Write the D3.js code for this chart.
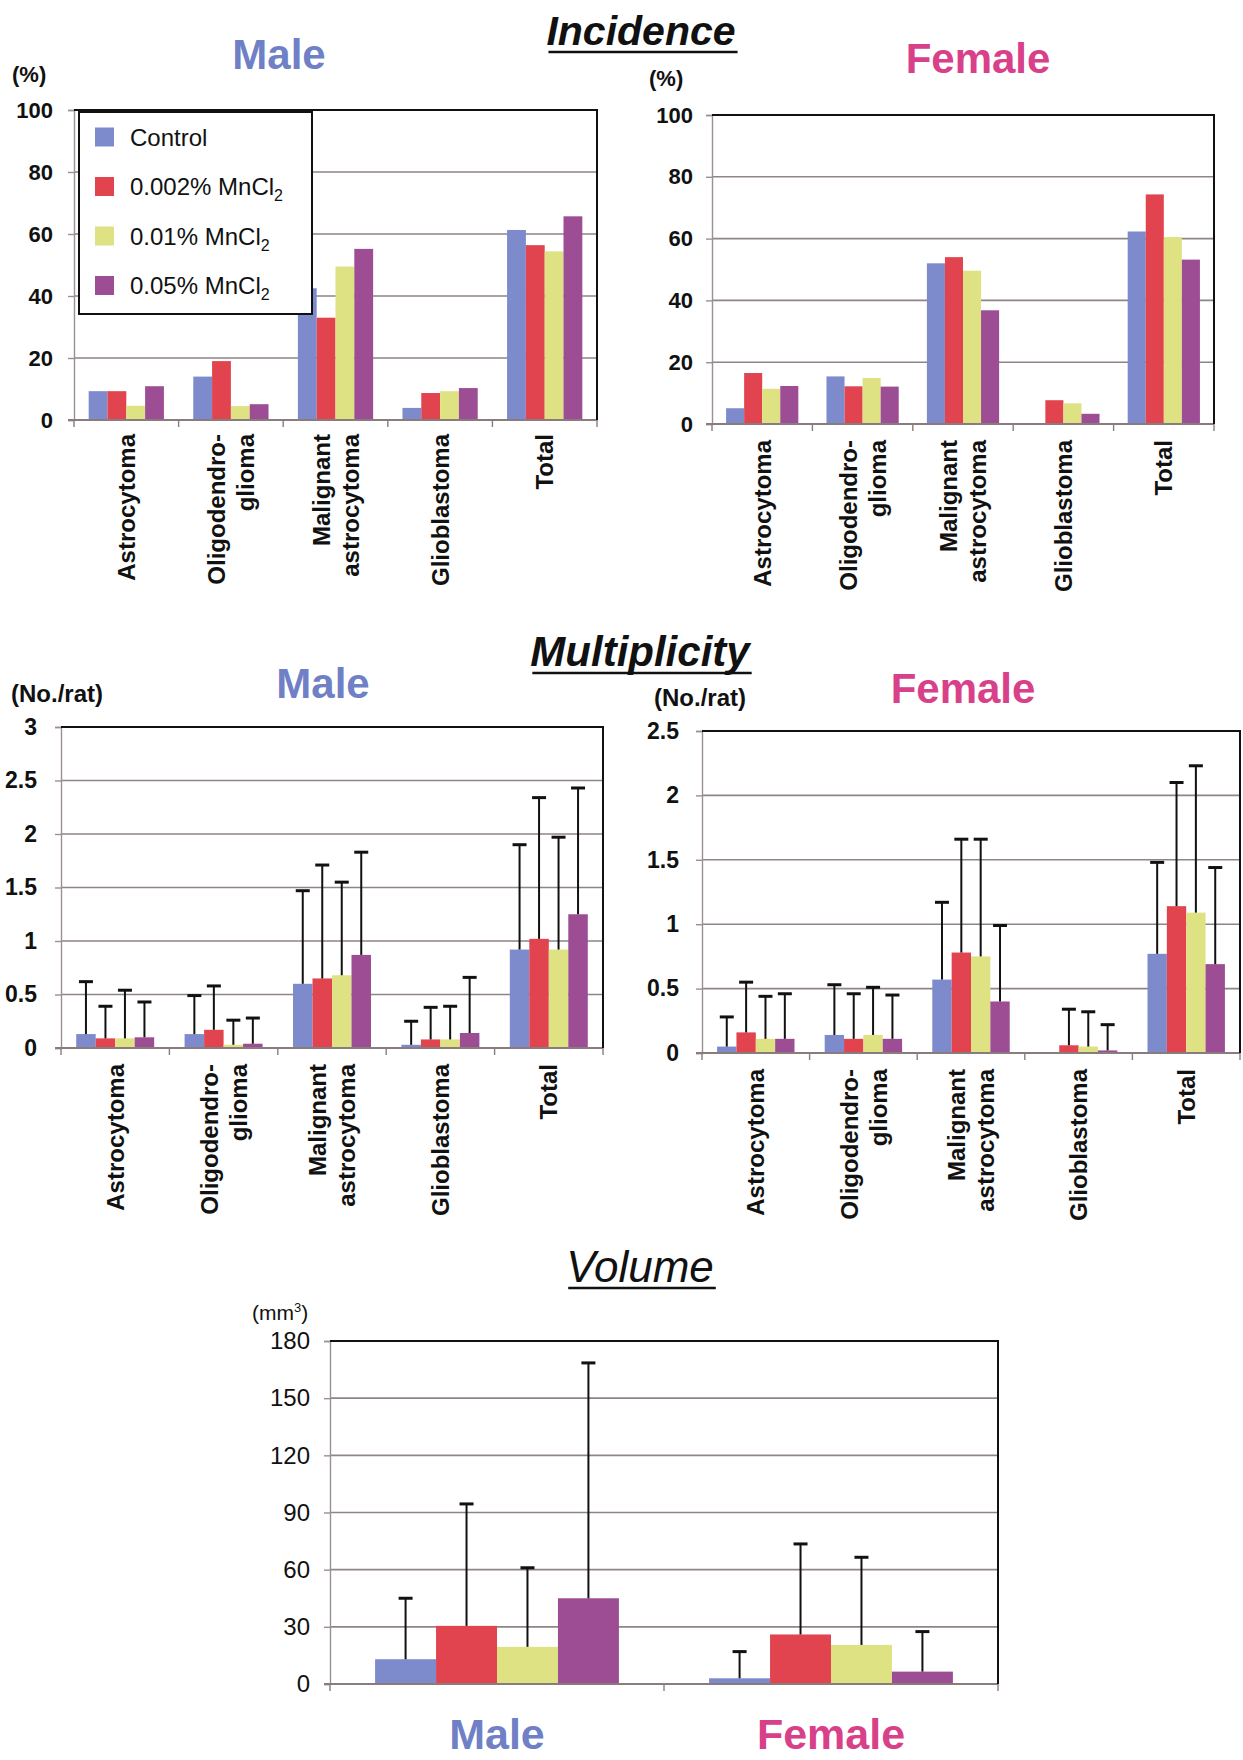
<!DOCTYPE html>
<html><head><meta charset="utf-8">
<script src="https://cdn.jsdelivr.net/npm/d3@7"></script>
<style>body{margin:0;background:#fff}svg{display:block}</style>
</head><body>
<svg id="c" width="1243" height="1760"></svg>
<script>
// ---------- data ----------
const groups = ["Control", "0.002% MnCl", "0.01% MnCl", "0.05% MnCl"];
const groupSubscripts = ["", "2", "2", "2"];
const groupColors = ["#7d8acb", "#e1434f", "#dfe283", "#9c4d93"];
const tumorTypes = ["Astrocytoma", "Oligodendro-glioma", "Malignant astrocytoma", "Glioblastoma", "Total"];
const tumorLabelLines = [["Astrocytoma"], ["Oligodendro-", "glioma"], ["Malignant", "astrocytoma"], ["Glioblastoma"], ["Total"]];

const incidenceTicks = [0, 20, 40, 60, 80, 100];
// rows = groups, columns = tumor types (%)
const incidenceMale = [
  [9.3, 14.0, 42.5, 3.9, 61.3],
  [9.3, 19.0, 33.0, 8.7, 56.4],
  [4.6, 4.5, 49.5, 9.3, 54.4],
  [10.9, 5.1, 55.2, 10.3, 65.7]
];
const incidenceFemale = [
  [5.1, 15.4, 52.0, 0, 62.3],
  [16.5, 12.2, 54.0, 7.7, 74.3],
  [11.4, 14.9, 49.6, 6.7, 60.5],
  [12.3, 12.1, 36.8, 3.3, 53.2]
];

const multiplicityMaleTicks = [0, 0.5, 1, 1.5, 2, 2.5, 3];
const multiplicityFemaleTicks = [0, 0.5, 1, 1.5, 2, 2.5];
const multiplicityMale = [
  [0.13, 0.13, 0.60, 0.03, 0.92],
  [0.09, 0.17, 0.65, 0.08, 1.02],
  [0.09, 0.03, 0.68, 0.08, 0.92],
  [0.10, 0.04, 0.87, 0.14, 1.25]
];
const multiplicityMaleSD = [
  [0.49, 0.36, 0.87, 0.22, 0.98],
  [0.30, 0.41, 1.06, 0.30, 1.32],
  [0.45, 0.23, 0.87, 0.31, 1.05],
  [0.33, 0.24, 0.96, 0.52, 1.18]
];
const multiplicityFemale = [
  [0.05, 0.14, 0.57, 0, 0.77],
  [0.16, 0.11, 0.78, 0.06, 1.14],
  [0.11, 0.14, 0.75, 0.05, 1.09],
  [0.11, 0.11, 0.40, 0.02, 0.69]
];
const multiplicityFemaleSD = [
  [0.23, 0.39, 0.60, 0, 0.71],
  [0.39, 0.35, 0.88, 0.28, 0.96],
  [0.33, 0.37, 0.91, 0.27, 1.14],
  [0.35, 0.34, 0.59, 0.20, 0.75]
];

const sexes = ["Male", "Female"];
const sexColors = ["#6f80c6", "#d8418a"];
const volumeTicks = [0, 30, 60, 90, 120, 150, 180];
// rows = groups, columns = sexes (mm3)
const volumeMean = [
  [13, 3],
  [30.5, 26],
  [19.5, 20.5],
  [45, 6.5]
];
const volumeSD = [
  [32, 14],
  [64, 47.5],
  [41.5, 46],
  [123.5, 21]
];

// ---------- drawing ----------
const FONT = "'Liberation Sans', Arial, Helvetica, sans-serif";
const svg = d3.select("#c");

function drawChart(cfg) {
  const g = svg.append("g");
  const n = cfg.cats.length;
  const x = d3.scaleBand().domain(d3.range(n)).range([cfg.x0, cfg.x1]).paddingInner(0).paddingOuter(0);
  const xg = d3.scaleBand().domain(d3.range(groups.length)).range([0, x.bandwidth()])
    .paddingInner(0).paddingOuter(cfg.groupPad);
  const y = d3.scaleLinear().domain([0, cfg.ticks[cfg.ticks.length - 1]]).range([cfg.y1, cfg.y0]);

  // gridlines
  g.append("g").selectAll("line").data(cfg.ticks.slice(1, -1)).join("line")
    .attr("x1", cfg.x0).attr("x2", cfg.x1)
    .attr("y1", d => y(d)).attr("y2", d => y(d))
    .attr("stroke", "#8f8585").attr("stroke-width", 1.6);

  // bars
  const rows = cfg.means.map((row, gi) => row.map((v, ci) => ({ gi, ci, v, sd: cfg.sds ? cfg.sds[gi][ci] : 0 })));
  const flat = rows.flat();
  g.append("g").selectAll("rect").data(flat).join("rect")
    .attr("x", d => x(d.ci) + xg(d.gi))
    .attr("width", xg.bandwidth())
    .attr("y", d => y(d.v))
    .attr("height", d => y(0) - y(d.v))
    .attr("fill", d => groupColors[d.gi]);

  // error bars
  if (cfg.sds) {
    const eb = g.append("g").attr("stroke", "#111").attr("stroke-width", 2);
    const withErr = flat.filter(d => d.sd > 0);
    eb.selectAll("line.v").data(withErr).join("line").attr("class", "v")
      .attr("x1", d => x(d.ci) + xg(d.gi) + xg.bandwidth() / 2)
      .attr("x2", d => x(d.ci) + xg(d.gi) + xg.bandwidth() / 2)
      .attr("y1", d => y(d.v)).attr("y2", d => y(d.v + d.sd));
    eb.selectAll("line.c").data(withErr).join("line").attr("class", "c")
      .attr("x1", d => x(d.ci) + xg(d.gi) + xg.bandwidth() / 2 - cfg.cap / 2)
      .attr("x2", d => x(d.ci) + xg(d.gi) + xg.bandwidth() / 2 + cfg.cap / 2)
      .attr("y1", d => y(d.v + d.sd)).attr("y2", d => y(d.v + d.sd))
      .attr("stroke-width", 3);
  }

  // left axis
  const ya = g.append("g").attr("transform", `translate(${cfg.x0},0)`)
    .call(d3.axisLeft(y).tickValues(cfg.ticks).tickSize(6).tickPadding(cfg.tickGap - 6).tickFormat(d3.format("~g")));
  ya.select(".domain").attr("stroke", "#9a9090").attr("stroke-width", 1.4);
  ya.selectAll(".tick line").attr("stroke", "#9a9090").attr("stroke-width", 1.4);
  ya.selectAll(".tick text").attr("font-family", FONT).attr("font-size", cfg.tickSize)
    .attr("font-weight", cfg.tickWeight).attr("fill", "#111");

  // bottom axis with boundary ticks
  const ba = g.append("g").attr("stroke", "#8a7c7c").attr("stroke-width", 2);
  ba.append("line").attr("x1", cfg.x0 - 6).attr("x2", cfg.x1).attr("y1", y(0)).attr("y2", y(0));
  ba.selectAll("line.t").data(d3.range(n + 1)).join("line").attr("class", "t")
    .attr("x1", i => i < n ? x(i) : cfg.x1).attr("x2", i => i < n ? x(i) : cfg.x1)
    .attr("y1", y(0)).attr("y2", y(0) + 7).attr("stroke-width", 1.4);

  // top & right border
  g.append("path")
    .attr("d", `M${cfg.x0},${cfg.y0}H${cfg.x1}V${cfg.y1}`)
    .attr("fill", "none").attr("stroke", "#111").attr("stroke-width", 2);

  // category labels
  if (cfg.rotatedLabels) {
    cfg.cats.forEach((lines, i) => {
      const cx = x(i) + x.bandwidth() / 2;
      lines.forEach((t, j) => {
        const lx = cx + (j - (lines.length - 1) / 2) * 29;
        g.append("text")
          .attr("transform", `translate(${lx},${y(0) + cfg.labelGap}) rotate(-90)`)
          .attr("text-anchor", "end").attr("dy", "0.36em")
          .attr("font-family", FONT).attr("font-size", 24).attr("font-weight", "bold")
          .attr("fill", "#111").text(t);
      });
    });
  } else {
    cfg.cats.forEach((t, i) => {
      g.append("text").attr("x", x(i) + x.bandwidth() / 2).attr("y", cfg.labelY)
        .attr("text-anchor", "middle").attr("font-family", FONT)
        .attr("font-size", 43).attr("font-weight", "bold")
        .attr("fill", cfg.catColors[i]).text(t);
    });
  }
  return { x, y };
}

function title(text, cx, baseline, size, weight, underlineY) {
  const t = svg.append("text").attr("x", cx).attr("y", baseline).attr("text-anchor", "middle")
    .attr("font-family", FONT).attr("font-size", size).attr("font-weight", weight)
    .attr("font-style", "italic").attr("fill", "#111").text(text);
  const w = t.node().getComputedTextLength();
  svg.append("line").attr("x1", cx - w / 2 + 2).attr("x2", cx + w / 2 + 2)
    .attr("y1", underlineY).attr("y2", underlineY).attr("stroke", "#111").attr("stroke-width", 2.5);
}
function sexTitle(text, color, cx, baseline) {
  svg.append("text").attr("x", cx).attr("y", baseline).attr("text-anchor", "middle")
    .attr("font-family", FONT).attr("font-size", 42).attr("font-weight", "bold")
    .attr("fill", color).text(text);
}
function unitLabel(text, x, y, size, weight) {
  return svg.append("text").attr("x", x).attr("y", y).attr("font-family", FONT)
    .attr("font-size", size).attr("font-weight", weight).attr("fill", "#111").text(text);
}

// ---- Incidence ----
title("Incidence", 641, 45, 41, "bold", 52);
sexTitle(sexes[0], sexColors[0], 279, 69);
sexTitle(sexes[1], sexColors[1], 978, 73);
unitLabel("(%)", 12, 82, 22, "bold");
unitLabel("(%)", 649, 86, 22, "bold");

drawChart({ x0: 74, x1: 597, y0: 110, y1: 420, ticks: incidenceTicks, means: incidenceMale,
  cats: tumorLabelLines, groupPad: 0.78, tickGap: 21, tickSize: 22, tickWeight: "bold",
  rotatedLabels: true, labelGap: 14, cap: 14 });
drawChart({ x0: 712, x1: 1214, y0: 115, y1: 424, ticks: incidenceTicks, means: incidenceFemale,
  cats: tumorLabelLines, groupPad: 0.78, tickGap: 19, tickSize: 22, tickWeight: "bold",
  rotatedLabels: true, labelGap: 16, cap: 14 });

// legend
const lg = svg.append("g");
lg.append("rect").attr("x", 79).attr("y", 112).attr("width", 233).attr("height", 202)
  .attr("fill", "#fff").attr("stroke", "#111").attr("stroke-width", 2);
groups.forEach((name, i) => {
  const cy = 137 + i * 49.5;
  lg.append("rect").attr("x", 95).attr("y", cy - 9.5).attr("width", 19).attr("height", 19)
    .attr("fill", groupColors[i]);
  const t = lg.append("text").attr("x", 130).attr("y", cy + 8.5).attr("font-family", FONT)
    .attr("font-size", 24).attr("fill", "#111").text(name);
  if (groupSubscripts[i]) t.append("tspan").attr("font-size", 16).attr("dy", 6).text(groupSubscripts[i]);
});

// ---- Multiplicity ----
title("Multiplicity", 640, 666, 42, "bold", 673);
sexTitle(sexes[0], sexColors[0], 323, 698);
sexTitle(sexes[1], sexColors[1], 963, 703);
unitLabel("(No./rat)", 11, 702, 24, "bold");
unitLabel("(No./rat)", 654, 706, 24, "bold");

drawChart({ x0: 61, x1: 603, y0: 727, y1: 1048, ticks: multiplicityMaleTicks, means: multiplicityMale,
  sds: multiplicityMaleSD, cats: tumorLabelLines, groupPad: 0.78, tickGap: 24, tickSize: 23,
  tickWeight: "bold", rotatedLabels: true, labelGap: 16, cap: 14 });
drawChart({ x0: 702, x1: 1240, y0: 731, y1: 1053, ticks: multiplicityFemaleTicks, means: multiplicityFemale,
  sds: multiplicityFemaleSD, cats: tumorLabelLines, groupPad: 0.78, tickGap: 23, tickSize: 23,
  tickWeight: "bold", rotatedLabels: true, labelGap: 16, cap: 14 });

// ---- Volume ----
title("Volume", 640, 1282, 44, "normal", 1288);
const mm = unitLabel("(mm", 252, 1320, 21, "normal");
mm.append("tspan").attr("font-size", 13).attr("dy", -8).text("3");
mm.append("tspan").attr("dy", 8).text(")");

drawChart({ x0: 330, x1: 998, y0: 1341, y1: 1684, ticks: volumeTicks, means: volumeMean,
  sds: volumeSD, cats: sexes, catColors: sexColors, groupPad: 0.74, tickGap: 20, tickSize: 24,
  tickWeight: "normal", rotatedLabels: false, labelY: 1749, cap: 14 });
</script>
</body></html>
